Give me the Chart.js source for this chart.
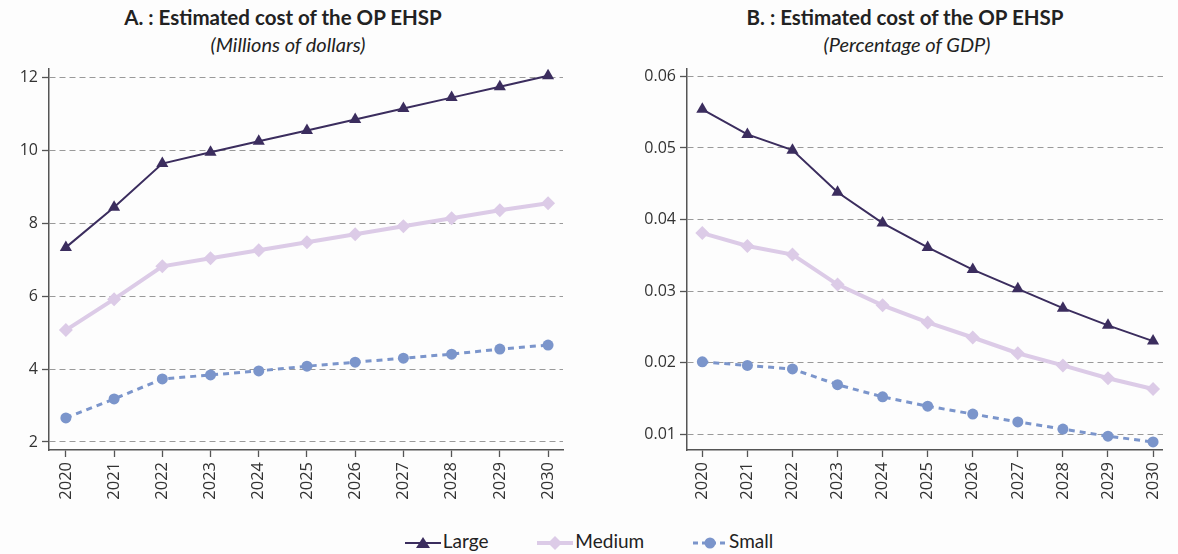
<!DOCTYPE html>
<html lang="en">

<head>
    <meta charset="UTF-8">
    <title>Estimated cost of the OP EHSP</title>
    <script src="https://cdn.jsdelivr.net/npm/chart.js"></script>
    <style>
        body {
            margin: 0;
            width: 1178px;
            height: 554px;
            background: #fdfdfd;
            position: relative;
            overflow: hidden;
            font-family: Lato, "Open Sans", sans-serif;
            color: #222;
        }

        .title {
            position: absolute;
            width: 500px;
            text-align: center;
            font-weight: bold;
            font-size: 20.5px;
            top: 5px;
        }

        .subtitle {
            position: absolute;
            width: 500px;
            text-align: center;
            font-style: italic;
            font-size: 20px;
            top: 32px;
        }

        .box {
            position: absolute;
            top: 55px;
            height: 465px;
        }

        #legend {
            position: absolute;
            top: 529px;
            left: 0;
            width: 1178px;
            text-align: center;
            font-size: 19px;
        }

        #legend span.item {
            display: inline-block;
            margin: 0 22px;
        }

        #legend svg {
            vertical-align: middle;
            margin-right: 2px;
        }
    </style>
</head>

<body>
    <div class="title" style="left:33px">A. : Estimated cost of the OP EHSP</div>
    <div class="subtitle" style="left:38px">(Millions of dollars)</div>
    <div class="title" style="left:655px">B. : Estimated cost of the OP EHSP</div>
    <div class="subtitle" style="left:657px">(Percentage of GDP)</div>

    <div class="box" style="left:0; width:575px;"><canvas id="chartA"></canvas></div>
    <div class="box" style="left:590px; width:588px;"><canvas id="chartB"></canvas></div>

    <div id="legend">
        <span class="item">
            <svg width="36" height="14"><line x1="0" y1="7" x2="36" y2="7" stroke="#3b2d5e" stroke-width="2"/><polygon points="18,1 25,12 11,12" fill="#3b2d5e"/></svg>Large
        </span>
        <span class="item">
            <svg width="36" height="14"><line x1="0" y1="7" x2="36" y2="7" stroke="#dccbe7" stroke-width="4"/><polygon points="18,0 25,7 18,14 11,7" fill="#dccbe7"/></svg>Medium
        </span>
        <span class="item">
            <svg width="34" height="14"><line x1="0" y1="7" x2="34" y2="7" stroke="#7b95cb" stroke-width="3" stroke-dasharray="5,4"/><circle cx="17" cy="7" r="5.5" fill="#7b95cb"/></svg>Small
        </span>
    </div>

    <script>
        // years on the x axis
        const years = [2020, 2021, 2022, 2023, 2024, 2025, 2026, 2027, 2028, 2029, 2030];

        // A: millions of dollars
        const largeA = [7.34, 8.44, 9.64, 9.95, 10.25, 10.55, 10.85, 11.15, 11.45, 11.75, 12.05];
        const mediumA = [5.07, 5.92, 6.82, 7.04, 7.26, 7.48, 7.70, 7.92, 8.14, 8.36, 8.55];
        const smallA = [2.66, 3.18, 3.73, 3.84, 3.95, 4.08, 4.19, 4.30, 4.41, 4.55, 4.66];
        const yTicksA = [2, 4, 6, 8, 10, 12];

        // B: percentage of GDP
        const largeB = [0.0554, 0.0519, 0.0497, 0.0438, 0.0395, 0.0361, 0.0330, 0.0303, 0.0276, 0.0252, 0.0230];
        const mediumB = [0.0381, 0.0363, 0.0351, 0.0309, 0.0280, 0.0256, 0.0235, 0.0213, 0.0196, 0.0178, 0.0163];
        const smallB = [0.0201, 0.0196, 0.0191, 0.0169, 0.0152, 0.0139, 0.0128, 0.0117, 0.0107, 0.0097, 0.0089];
        const yTicksB = [0.01, 0.02, 0.03, 0.04, 0.05, 0.06];

        const colLarge = '#3b2d5e';
        const colMedium = '#dccbe7';
        const colSmall = '#7b95cb';

        function pts(vals) {
            return years.map((y, i) => ({ x: y, y: vals[i] }));
        }

        function makeChart(id, large, medium, small, yTicks, yOpts) {
            return new Chart(document.getElementById(id), {
                type: 'line',
                data: {
                    datasets: [
                        {
                            label: 'Small',
                            data: pts(small),
                            borderColor: colSmall,
                            backgroundColor: colSmall,
                            borderWidth: 3,
                            borderDash: [6, 5],
                            pointStyle: 'circle',
                            pointRadius: 5.5,
                            pointBorderWidth: 0,
                            tension: 0
                        },
                        {
                            label: 'Medium',
                            data: pts(medium),
                            borderColor: colMedium,
                            backgroundColor: colMedium,
                            borderWidth: 4,
                            pointStyle: 'rectRot',
                            pointRadius: 7,
                            pointBorderWidth: 0,
                            tension: 0
                        },
                        {
                            label: 'Large',
                            data: pts(large),
                            borderColor: colLarge,
                            backgroundColor: colLarge,
                            borderWidth: 2,
                            pointStyle: 'triangle',
                            pointRadius: 7,
                            pointBorderWidth: 0,
                            tension: 0
                        }
                    ]
                },
                options: {
                    responsive: true,
                    maintainAspectRatio: false,
                    animation: false,
                    layout: { padding: yOpts.padding },
                    plugins: {
                        legend: { display: false },
                        tooltip: { enabled: false }
                    },
                    scales: {
                        x: {
                            type: 'linear',
                            min: yOpts.xMin,
                            max: yOpts.xMax,
                            afterBuildTicks: s => { s.ticks = years.map(v => ({ value: v })); },
                            afterFit: s => { s.height = 70; },
                            ticks: {
                                minRotation: 90,
                                maxRotation: 90,
                                padding: 5,
                                color: '#333',
                                font: { family: 'Open Sans', size: 16.5 },
                                callback: v => String(v)
                            },
                            grid: {
                                drawOnChartArea: false,
                                drawTicks: true,
                                tickLength: 7,
                                tickColor: '#555',
                                tickWidth: 1.3
                            },
                            border: { color: '#555', width: 1.5 }
                        },
                        y: {
                            min: yOpts.min,
                            max: yOpts.max,
                            afterBuildTicks: s => { s.ticks = yTicks.map(v => ({ value: v })); },
                            afterFit: s => { s.width = yOpts.width; },
                            ticks: {
                                padding: 4,
                                color: '#333',
                                font: { family: 'Open Sans', size: 16 },
                                callback: v => String(v)
                            },
                            grid: {
                                color: '#9a9a9a',
                                lineWidth: 1,
                                drawTicks: true,
                                tickLength: 7,
                                tickColor: '#555',
                                tickWidth: 1.3
                            },
                            border: { color: '#555', width: 1.5, dash: [6, 4] }
                        }
                    }
                }
            });
        }

        makeChart('chartA', largeA, mediumA, smallA, yTicksA, {
            min: 1.78, max: 12.246, xMin: 2019.65, xMax: 2030.31, width: 49,
            padding: { top: 2, right: 12, left: 0, bottom: 0 }
        });

        makeChart('chartB', largeB, mediumB, smallB, yTicksB, {
            min: 0.00777, max: 0.0611, xMin: 2019.66, xMax: 2030.22, width: 97,
            padding: { top: 2, right: 0, left: 0, bottom: 0 }
        });
    </script>
</body>

</html>
